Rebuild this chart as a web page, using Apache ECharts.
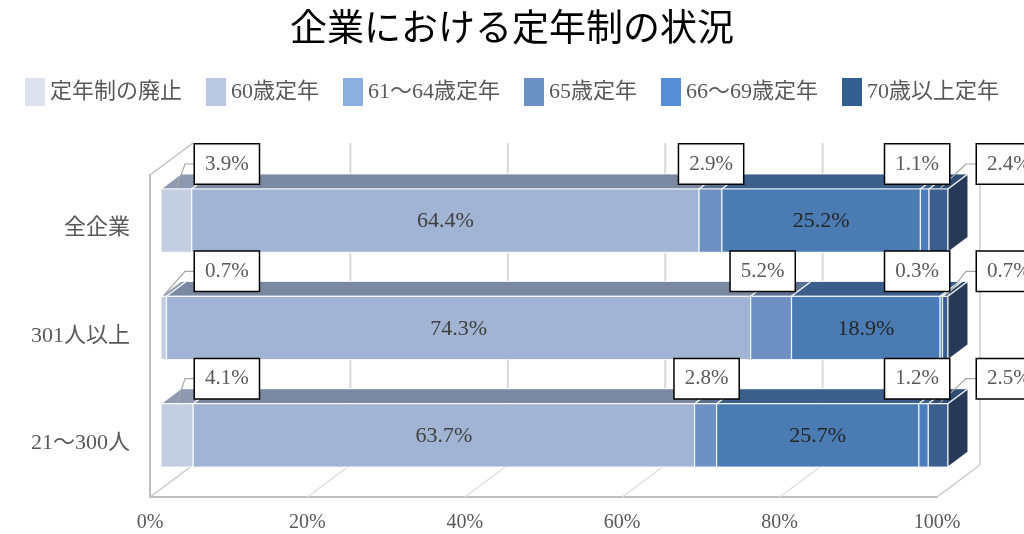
<!DOCTYPE html>
<html>
<head>
<meta charset="utf-8">
<script src="https://cdn.jsdelivr.net/npm/echarts@6/dist/echarts.min.js"></script>
<style>
  html, body { margin: 0; padding: 0; background: #fff; }
  #chart { width: 1024px; height: 534px; }
</style>
</head>
<body>
<div id="chart"></div>
<script>
// data (percent)
const categories = ['全企業', '301人以上', '21～300人'];
const seriesNames = ['定年制の廃止', '60歳定年', '61～64歳定年', '65歳定年', '66～69歳定年', '70歳以上定年'];
const abolished = [3.9, 0.7, 4.1];
const age60 = [64.4, 74.3, 63.7];
const age61to64 = [2.9, 5.2, 2.8];
const age65 = [25.2, 18.9, 25.7];
const age66to69 = [1.1, 0.3, 1.2];
const age70plus = [2.4, 0.7, 2.5];
const xTicks = [0, 20, 40, 60, 80, 100];

const values = [abolished, age60, age61to64, age65, age66to69, age70plus];

// colours: legend swatches and shaded faces of the 3d bars
const legendColors = ['#dce3ee', '#b9c9e2', '#8eb0e0', '#6a90c4', '#558ed5', '#335e90'];
const frontColors = ['#c3cee2', '#a1b4d4', '#6f90c2', '#4a7bb3', '#4c7ebd', '#3a5f8e'];
const topColors = ['#8d99b0', '#7a88a1', '#5d7092', '#3b5f8a', '#3c608d', '#2f4d73'];
const sideColor = '#263a57';

// fake perspective, in pixels
const DEPTH_X = 43, DEPTH_Y = -32;     // full depth of the box
const FRONT_X = 11, FRONT_Y = -8;      // bar front face inside the box
const BAR_X = 20, BAR_Y = -15;         // bar thickness

const numFont = "'Liberation Serif', 'Noto Sans CJK JP', serif";
const textGray = '#595959';

// cumulative (normalised to 100%) start/end for every segment
const totals = categories.map((c, j) => values.reduce((s, arr) => s + arr[j], 0));
const segData = values.map((arr, i) =>
  arr.map((v, j) => {
    let before = 0;
    for (let k = 0; k < i; k++) before += values[k][j];
    return [before / totals[j] * 100, (before + v) / totals[j] * 100, j, v];
  })
);

function boxLabel(x, y, text, align) {
  return {
    type: 'text',
    z2: 20,
    x: x,
    y: y,
    style: {
      text: text,
      fill: textGray,
      font: '21px ' + numFont,
      align: align,
      verticalAlign: 'middle',
      backgroundColor: '#ffffff',
      borderColor: '#000000',
      borderWidth: 1.5,
      padding: [9, 10, 9, 10],
    },
  };
}

function leader(points) {
  return {
    type: 'polyline',
    z2: 19,
    shape: { points: points },
    style: { stroke: '#a6a6a6', lineWidth: 1.2, fill: null },
  };
}

function makeRender(idx) {
  return function (params, api) {
    const cs = params.coordSys;
    const cat = api.value(2);
    const raw = api.value(3);
    const p0 = api.coord([api.value(0), cat]);
    const p1 = api.coord([api.value(1), cat]);
    const h = api.size([0, 1])[1] * 0.59;
    const x0 = p0[0] + FRONT_X;
    const x1 = p1[0] + FRONT_X;
    const yT = p0[1] + FRONT_Y - h / 2;
    const yB = yT + h;
    const edge = { stroke: 'rgba(255,255,255,0.85)', lineWidth: 1.2 };
    const children = [
      {
        type: 'polygon',
        shape: { points: [[x0, yT], [x0 + BAR_X, yT + BAR_Y], [x1 + BAR_X, yT + BAR_Y], [x1, yT]] },
        style: Object.assign({ fill: topColors[idx] }, edge),
      },
      {
        type: 'rect',
        shape: { x: x0, y: yT, width: x1 - x0, height: h },
        style: Object.assign({ fill: frontColors[idx] }, edge),
      },
    ];
    if (idx === values.length - 1) {
      children.push({
        type: 'polygon',
        shape: { points: [[x1, yT], [x1 + BAR_X, yT + BAR_Y], [x1 + BAR_X, yB + BAR_Y], [x1, yB]] },
        style: Object.assign({ fill: sideColor }, edge),
      });
    }

    const txt = raw.toFixed(1) + '%';
    const cy = yT - 25;
    const xc = (x0 + x1) / 2;
    if (idx === 1 || idx === 3) {
      children.push({
        type: 'text',
        z2: 20,
        x: xc,
        y: (yT + yB) / 2 + 1,
        style: {
          text: txt,
          fill: idx === 1 ? '#404040' : '#262626',
          font: '22px ' + numFont,
          align: 'center',
          verticalAlign: 'middle',
        },
      });
    } else if (idx === 0) {
      const bx = cs.x + 45;
      children.push(leader([[bx, cy], [bx - 10, cy], [xc, yT - 1]]));
      children.push(boxLabel(bx, cy, txt, 'left'));
    } else if (idx === 2) {
      children.push(boxLabel(x0 + 12, cy, txt, 'center'));
    } else if (idx === 4) {
      const barEnd = cs.x + cs.width + FRONT_X;
      children.push(boxLabel(barEnd + 1, cy, txt, 'right'));
    } else {
      const bx = cs.x + cs.width + 40;
      children.push(leader([[bx, cy], [bx - 11, cy], [xc + 2, yT - 1]]));
      children.push(boxLabel(bx, cy, txt, 'left'));
    }
    return { type: 'group', children: children };
  };
}

// walls and floor of the 3d box, one item per tick
function renderFrame(params, api) {
  const cs = params.coordSys;
  const px = api.coord([api.value(0), 0])[0];
  const yBot = cs.y + cs.height;
  const yTop = cs.y;
  const children = [
    {
      type: 'line',
      shape: { x1: px, y1: yBot, x2: px + DEPTH_X, y2: yBot + DEPTH_Y },
      style: { stroke: api.value(0) === 0 || api.value(0) === 100 ? '#c8c8c8' : '#dedede', lineWidth: 1.5 },
    },
  ];
  if (api.value(0) > 0) {
    children.push({
      type: 'line',
      shape: { x1: px + DEPTH_X, y1: yBot + DEPTH_Y, x2: px + DEPTH_X, y2: yTop + DEPTH_Y },
      style: { stroke: '#d9d9d9', lineWidth: 2 },
    });
  } else {
    children.push({
      type: 'line',
      shape: { x1: px, y1: yTop, x2: px + DEPTH_X, y2: yTop + DEPTH_Y },
      style: { stroke: '#bfbfbf', lineWidth: 1.5 },
    });
  }
  return { type: 'group', children: children };
}

const chart = echarts.init(document.getElementById('chart'));

const series = [
  {
    type: 'custom',
    name: 'frame',
    silent: true,
    z: 1,
    renderItem: renderFrame,
    encode: { x: 0, y: 1 },
    data: xTicks.map(v => [v, 0]),
  },
];
seriesNames.forEach((name, i) => {
  series.push({
    type: 'custom',
    name: name,
    z: 3,
    clip: false,
    itemStyle: { color: legendColors[i] },
    renderItem: makeRender(i),
    encode: { x: [0, 1], y: 2 },
    data: segData[i],
  });
});

chart.setOption({
  animation: false,
  title: {
    text: '企業における定年制の状況',
    left: 'center',
    top: 3,
    textStyle: {
      fontFamily: "'Noto Sans CJK JP', sans-serif",
      fontSize: 37,
      fontWeight: 'normal',
      color: '#000000',
    },
  },
  legend: {
    data: seriesNames,
    left: 'center',
    top: 73,
    icon: 'rect',
    itemWidth: 20,
    itemHeight: 28,
    itemGap: 24,
    textStyle: { fontFamily: numFont, fontSize: 22, color: textGray },
  },
  grid: {
    left: 150,
    right: 87,
    top: 175,
    bottom: 37,
    outerBoundsMode: 'none',
  },
  xAxis: {
    type: 'value',
    min: 0,
    max: 100,
    interval: 20,
    axisLine: { show: true, lineStyle: { color: '#bfbfbf', width: 2 } },
    axisTick: { show: false },
    splitLine: { show: false },
    axisLabel: {
      formatter: '{value}%',
      margin: 16,
      fontFamily: numFont,
      fontSize: 20,
      color: textGray,
    },
  },
  yAxis: {
    type: 'category',
    data: categories,
    inverse: true,
    axisLine: { show: true, lineStyle: { color: '#bfbfbf', width: 2 } },
    axisTick: { show: false },
    axisLabel: {
      margin: 20,
      fontFamily: numFont,
      fontSize: 22,
      color: textGray,
    },
  },
  series: series,
});
</script>
</body>
</html>
